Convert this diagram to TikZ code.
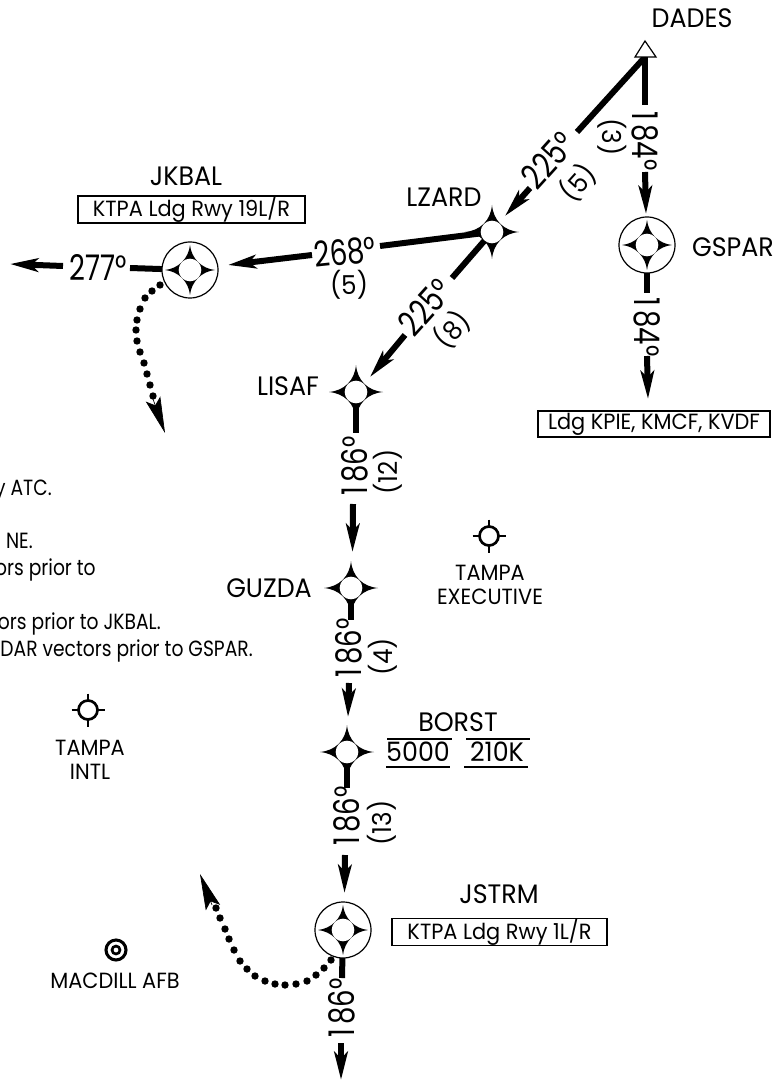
\documentclass[tikz,border=0pt]{standalone}
\usepackage{fontspec}
\setmainfont[FakeStretch=0.95]{Poppins}
\newfontfamily\routeface[FakeStretch=0.78]{Poppins}
\newfontfamily\noteface[FakeStretch=0.85]{Poppins}
\usetikzlibrary{arrows.meta}
\newcommand\fRoute{\routeface\fontsize{26.5}{26.5}\selectfont}
\newcommand\fName{\fontsize{20}{20}\selectfont}
\newcommand\fDist{\fontsize{19.5}{19.5}\selectfont}
\newcommand\fSmall{\fontsize{16.5}{18}\selectfont}
\newcommand\fNote{\noteface\fontsize{16.5}{18}\selectfont}
\newcommand\onedigit{\makebox[12.7pt]{1}}
\tikzset{
  leg/.style={line width=4.5pt},
  legarrow/.style={line width=4.5pt,-{Stealth[length=21pt,width=10pt,inset=5pt]}},
  routelbl/.style={font=\fRoute,inner sep=0pt},
  distlbl/.style={font=\fDist,inner sep=0pt},
  wpname/.style={font=\fName,inner sep=0pt},
  smalllbl/.style={font=\fSmall,inner sep=0pt,align=center},
  notelbl/.style={font=\fNote,inner sep=0pt,anchor=base east},
  wp/.style={circle,fill=white,inner sep=0pt,minimum size=17pt},
  ringwp/.style={circle,draw,line width=0.9pt,fill=white,inner sep=0pt,minimum size=42pt},
  boxed/.style={draw,line width=0.8pt,fill=white,inner sep=0pt,font=\fSmall},
  dotarrow/.style={line width=0.5pt,-{Stealth[length=27pt,width=11.5pt,inset=5pt]}},
  fixstar/.pic={\fill (27,0) .. controls (11.5,1.5) and (1.5,11.5) .. (0,27)
      .. controls (-1.5,11.5) and (-11.5,1.5) .. (-27,0)
      .. controls (-11.5,-1.5) and (-1.5,-11.5) .. (0,-27)
      .. controls (1.5,-11.5) and (11.5,-1.5) .. (27,0) -- cycle;},
  ringstar/.pic={\fill (25,0) .. controls (11.5,1.5) and (1.5,11.5) .. (0,25)
      .. controls (-1.5,11.5) and (-11.5,1.5) .. (-25,0)
      .. controls (-11.5,-1.5) and (-1.5,-11.5) .. (0,-25)
      .. controls (1.5,-11.5) and (11.5,-1.5) .. (25,0) -- cycle;},
  airport/.pic={\draw[line width=2pt] (0,0) circle[radius=9.5];
      \draw[line width=2pt] (-16.5,0)--(-9.5,0) (9.5,0)--(16.5,0) (0,-16.5)--(0,-9.5) (0,9.5)--(0,16.5);},
}
\begin{document}
\begin{tikzpicture}[x=0.75pt,y=-0.75pt]
\useasboundingbox (0,0) rectangle (783,1080);
\clip (0,0) rectangle (783,1080);
% fix positions
\coordinate (dades) at (645,57);
\coordinate (lzardc) at (492,232);
\coordinate (lisafc) at (356,392);
\coordinate (guzdac) at (351,588);
\coordinate (borstc) at (347,752);
\coordinate (jstrmc) at (343,930);
\coordinate (gsparc) at (647,245);
\coordinate (jkbalc) at (190,270);
% free ends of the legs
\coordinate (a1) at (577,132); \coordinate (a2) at (530,188); \coordinate (a3) at (505,216);
\coordinate (b1) at (645,105); \coordinate (b2) at (645,172); \coordinate (b3) at (646,214);
\coordinate (c1) at (647,293); \coordinate (c2) at (647,356); \coordinate (c3) at (648,399);
\coordinate (d1) at (380,246); \coordinate (d2) at (312,255); \coordinate (d3) at (228,265);
\coordinate (e1) at (452,278); \coordinate (e2) at (405,335); \coordinate (e3) at (370,377);
\coordinate (f1) at (356,433); \coordinate (f2) at (353,504); \coordinate (f3) at (352.5,552);
\coordinate (g1) at (351,620); \coordinate (g2) at (349,683); \coordinate (g3) at (348,717);
\coordinate (h1) at (347,788); \coordinate (h2) at (345,855); \coordinate (h3) at (344.5,893);
\coordinate (i1) at (342,978); \coordinate (i2) at (341,1043); \coordinate (i3) at (341,1080);
\coordinate (j1) at (130,268); \coordinate (j2) at (63,266); \coordinate (j3) at (10,264);
\coordinate (k1) at (153,399); \coordinate (k2) at (165,433);
\coordinate (l1) at (212,905); \coordinate (l2) at (200,874);
% legs
\draw[leg] (dades) -- (a1); \draw[legarrow] (a2) -- (a3);
\draw[leg] (dades) -- (b1); \draw[legarrow] (b2) -- (b3);
\draw[leg] (gsparc) -- (c1); \draw[legarrow] (c2) -- (c3);
\draw[leg] (lzardc) -- (d1); \draw[legarrow] (d2) -- (d3);
\draw[leg] (lzardc) -- (e1); \draw[legarrow] (e2) -- (e3);
\draw[leg] (lisafc) -- (f1); \draw[legarrow] (f2) -- (f3);
\draw[leg] (guzdac) -- (g1); \draw[legarrow] (g2) -- (g3);
\draw[leg] (borstc) -- (h1); \draw[legarrow] (h2) -- (h3);
\draw[leg] (jstrmc) -- (i1); \draw[legarrow] (i2) -- (i3);
\draw[leg] (jkbalc) -- (j1); \draw[legarrow] (j2) -- (j3);
% route labels
\node[routelbl,rotate=48] (la) at (548,160) {225°};
\node[distlbl,rotate=48] (lad) at (578,183) {(5)};
\node[routelbl,rotate=-90] (lb) at (645,139) {\onedigit 84°};
\node[distlbl,rotate=-90] (lbd) at (612,137) {(3)};
\node[routelbl,rotate=-90] (lc) at (647,325) {\onedigit 84°};
\node[routelbl,rotate=6] (ld) at (345,252) {268°};
\node[distlbl] (ldd) at (349,285) {(5)};
\node[routelbl,rotate=48] (le) at (425,307) {225°};
\node[distlbl,rotate=48] (led) at (452,330) {(8)};
\node[routelbl,rotate=90] (lf) at (355,468) {\onedigit 86°};
\node[distlbl,rotate=90] (lfd) at (388,472) {(12)};
\node[routelbl,rotate=90] (lg) at (349,650) {\onedigit 86°};
\node[distlbl,rotate=90] (lgd) at (383,657) {(4)};
\node[routelbl,rotate=90] (lh) at (347,818) {\onedigit 86°};
\node[distlbl,rotate=90] (lhd) at (382,823) {(13)};
\node[routelbl,rotate=90] (li) at (342,1010) {\onedigit 86°};
\node[routelbl] (lj) at (98,267) {277°};
% fixes
\pic at (lzardc) {fixstar}; \node[wp] (lzard) at (lzardc) {};
\pic at (lisafc) {fixstar}; \node[wp] (lisaf) at (lisafc) {};
\pic at (guzdac) {fixstar}; \node[wp] (guzda) at (guzdac) {};
\pic at (borstc) {fixstar}; \node[wp] (borst) at (borstc) {};
\node[ringwp] (jkbal) at (jkbalc) {}; \pic at (jkbalc) {ringstar}; \node[wp] (jkbali) at (jkbalc) {};
\node[ringwp] (gspar) at (gsparc) {}; \pic at (gsparc) {ringstar}; \node[wp] (gspari) at (gsparc) {};
\node[ringwp] (jstrm) at (jstrmc) {}; \pic at (jstrmc) {ringstar}; \node[wp] (jstrmi) at (jstrmc) {};
\draw[line width=0.9pt,fill=white] (645,41) -- (656,57) -- (635,57) -- cycle;
% dotted tracks
\foreach \x/\y in {160/285,152/291,145/298,140/309,137/320,136/330,137/341,140/352,144/363,147/374,150/385,153/396}
  \fill (\x,\y) circle[radius=3.7];
\foreach \x/\y in {331/960,324/968,316/975,307/981,296/984,285/985,275/984,265/981,255/976,247/969,240/961,234/950,229/939,225/929,220/918,216/908}
  \fill (\x,\y) circle[radius=3.7];
\draw[dotarrow] (k1) -- (k2);
\draw[dotarrow] (l1) -- (l2);
% names
\node[wpname] (tdades) at (692,18) {DADES};
\node[wpname] (tjkbal) at (186,176) {JKBAL};
\node[wpname] (tlzard) at (444,197) {LZARD};
\node[wpname] (tgspar) at (733,247) {GSPAR};
\node[wpname] (tlisaf) at (288,386) {LISAF};
\node[wpname] (tguzda) at (269,588) {GUZDA};
\node[wpname] (tborst) at (458,722) {BORST};
\node[wpname] (tjstrm) at (499,894) {JSTRM};
\node[wpname] (t5000) at (418,752) {5000};
\node[wpname] (t210k) at (497,752) {210K};
\draw[line width=0.9pt] (387,739) -- (452,739) (386,767) -- (450,767) (466,739) -- (530,739) (464,767) -- (528,767);
% boxes
\node[boxed,minimum width=170.25pt,minimum height=20.25pt] (bjk) at (191.5,209.5) {KTPA Ldg Rwy 19L/R};
\node[boxed,minimum width=161.25pt,minimum height=19.5pt] (bjs) at (499.5,932) {KTPA Ldg Rwy 1L/R};
\node[boxed,minimum width=174pt,minimum height=19.5pt] (bld) at (654,424) {Ldg KPIE, KMCF, KVDF};
% airports
\pic at (489,536) {airport};
\node[smalllbl] (texec) at (490,585) {TAMPA\\EXECUTIVE};
\pic at (88,710) {airport};
\node[smalllbl] (tintl) at (90,760) {TAMPA\\INTL};
\draw[line width=2.3pt] (116,950) circle[radius=10];
\draw[line width=2pt] (116,950) circle[radius=4];
\node[smalllbl] (tmac) at (115,981) {MACDILL AFB};
% notes, cut by the left edge
\node[notelbl] (n1) at (52,495) {y ATC.};
\node[notelbl] (n2) at (33,548) {NE.};
\node[notelbl] (n3) at (96,575) {ors prior to};
\node[notelbl] (n4) at (161,629) {ors prior to JKBAL.};
\node[notelbl] (n5) at (253,656) {DAR vectors prior to GSPAR.};
\end{tikzpicture}
\end{document}
